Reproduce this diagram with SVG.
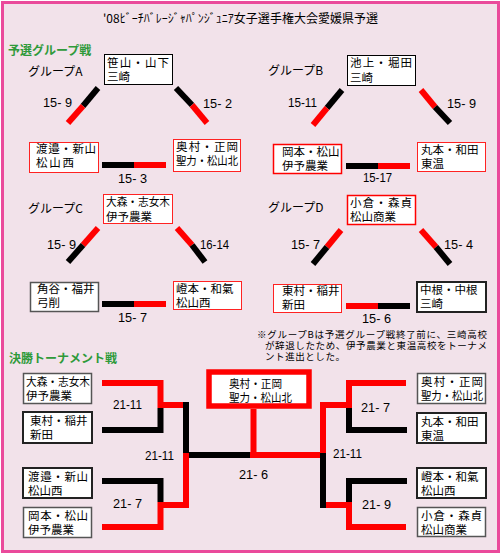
<svg xmlns="http://www.w3.org/2000/svg" width="502" height="557" viewBox="0 0 502 557">
<style>
.t{font-family:"Noto Sans CJK JP","Noto Sans CJK SC",sans-serif;font-size:11.5px;fill:#000}
.ti{font-family:"Noto Sans CJK JP","Noto Sans CJK SC",sans-serif;font-size:12px;fill:#000}
.n{font-family:"Noto Sans CJK JP","Noto Sans CJK SC",sans-serif;font-size:9.5px;fill:#000}
.h{font-family:"Noto Sans CJK JP","Noto Sans CJK SC",sans-serif;font-size:12px;font-weight:bold;fill:#2f9a3a}
.s{font-family:"Liberation Sans",Arial,sans-serif;font-size:12px;fill:#000}
.bk{fill:#fff;stroke:#000;stroke-width:1}
.bk2{fill:#fff;stroke:#222;stroke-width:2}
.gy{fill:#fff;stroke:#555;stroke-width:1.5}
.rd{fill:#fff;stroke:#f22;stroke-width:1}
.rd2{fill:#fff;stroke:#f00;stroke-width:1.5}
.r{stroke:#f00;stroke-width:6;fill:none;stroke-linejoin:miter}
.b{stroke:#000;stroke-width:6;fill:none;stroke-linejoin:miter}
</style>
<rect x="0" y="0" width="502" height="557" fill="#fff"/>
<rect x="2.5" y="2.5" width="496" height="549" fill="#f2e2ea" stroke="#ea4a9b" stroke-width="3"/>

<text class="ti" x="103" y="23" textLength="275">'08ﾋﾞｰﾁﾊﾞﾚｰｼﾞｬﾊﾟﾝｼﾞｭﾆｱ女子選手権大会愛媛県予選</text>
<text class="h" x="8" y="55">予選グループ戦</text>
<text class="ti" x="28" y="76">グループA</text>
<text class="ti" x="268" y="75">グループB</text>
<text class="ti" x="28" y="213">グループC</text>
<text class="ti" x="268" y="212">グループD</text>
<text class="h" x="9" y="363">決勝トーナメント戦</text>
<g id="note">
<text class="n" x="257" y="338" textLength="230">※グループBは予選グループ戦終了前に、三崎高校</text>
<text class="n" x="265" y="349" textLength="222">が辞退したため、伊予農業と東温高校をトーナメ</text>
<text class="n" x="265" y="360" textLength="80">ント進出とした。</text>
</g>

<g id="connectors">
<line class="b" x1="98" y1="88" x2="83" y2="106"/><line class="r" x1="83" y1="106" x2="68" y2="123"/>
<line class="b" x1="176" y1="88" x2="192" y2="105"/><line class="r" x1="192" y1="105" x2="207" y2="123"/>
<line class="b" x1="102" y1="165" x2="134" y2="165"/><line class="r" x1="134" y1="165" x2="166" y2="165"/>
<line class="b" x1="342" y1="90" x2="327" y2="108"/><line class="r" x1="327" y1="108" x2="313" y2="125"/>
<line class="r" x1="421" y1="90" x2="435" y2="107"/><line class="b" x1="435" y1="107" x2="450" y2="123"/>
<line class="b" x1="346" y1="166" x2="378" y2="166"/><line class="r" x1="378" y1="166" x2="410" y2="166"/>
<line class="r" x1="98" y1="228" x2="83" y2="245"/><line class="b" x1="83" y1="245" x2="68" y2="262"/>
<line class="r" x1="177" y1="228" x2="192" y2="245"/><line class="b" x1="192" y1="245" x2="205" y2="262"/>
<line class="b" x1="102" y1="304" x2="134" y2="304"/><line class="r" x1="134" y1="304" x2="166" y2="304"/>
<line class="r" x1="341" y1="230" x2="327" y2="247"/><line class="b" x1="327" y1="247" x2="313" y2="264"/>
<line class="r" x1="421" y1="230" x2="436" y2="247"/><line class="b" x1="436" y1="247" x2="450" y2="264"/>
<line class="r" x1="346" y1="306" x2="378" y2="306"/><line class="b" x1="378" y1="306" x2="410" y2="306"/>
<path class="b" d="M102,430 H160.5 V408"/>
<path class="r" d="M102,383 H160.5 V405 H183"/>
<path class="b" d="M102,481 H160.5 V502"/>
<path class="r" d="M102,527 H160.5 V505 H183"/>
<path class="b" d="M186,402 V453"/>
<path class="r" d="M186,453 V508"/>
<path class="b" d="M189,455 H251"/>
<path class="r" d="M253.5,409 V458"/>
<path class="r" d="M250,455 H320"/>
<path class="r" d="M323,402 V453"/>
<path class="b" d="M323,453 V508"/>
<path class="r" d="M320,405 H349 V383 H406"/>
<path class="b" d="M349,408 V430 H407"/>
<path class="b" d="M407,481 H349 V502"/>
<path class="r" d="M406,527 H349 V505 H326"/>
</g>

<g id="scores">
<text class="s" x="43" y="107" textLength="29" lengthAdjust="spacingAndGlyphs">15- 9</text>
<text class="s" x="203" y="108" textLength="29" lengthAdjust="spacingAndGlyphs">15- 2</text>
<text class="s" x="118" y="183" textLength="29" lengthAdjust="spacingAndGlyphs">15- 3</text>
<text class="s" x="288" y="107" textLength="29" lengthAdjust="spacingAndGlyphs">15-11</text>
<text class="s" x="447" y="108" textLength="29" lengthAdjust="spacingAndGlyphs">15- 9</text>
<text class="s" x="363" y="182" textLength="29" lengthAdjust="spacingAndGlyphs">15-17</text>
<text class="s" x="47" y="249" textLength="29" lengthAdjust="spacingAndGlyphs">15- 9</text>
<text class="s" x="200" y="249" textLength="29" lengthAdjust="spacingAndGlyphs">16-14</text>
<text class="s" x="118" y="322" textLength="29" lengthAdjust="spacingAndGlyphs">15- 7</text>
<text class="s" x="291" y="249" textLength="29" lengthAdjust="spacingAndGlyphs">15- 7</text>
<text class="s" x="444" y="249" textLength="29" lengthAdjust="spacingAndGlyphs">15- 4</text>
<text class="s" x="362" y="323" textLength="29" lengthAdjust="spacingAndGlyphs">15- 6</text>
<text class="s" x="113" y="409" textLength="29" lengthAdjust="spacingAndGlyphs">21-11</text>
<text class="s" x="113" y="508" textLength="29" lengthAdjust="spacingAndGlyphs">21- 7</text>
<text class="s" x="145" y="460" textLength="29" lengthAdjust="spacingAndGlyphs">21-11</text>
<text class="s" x="239" y="479" textLength="29" lengthAdjust="spacingAndGlyphs">21- 6</text>
<text class="s" x="333" y="458" textLength="29" lengthAdjust="spacingAndGlyphs">21-11</text>
<text class="s" x="361" y="412" textLength="29" lengthAdjust="spacingAndGlyphs">21- 7</text>
<text class="s" x="362" y="509" textLength="29" lengthAdjust="spacingAndGlyphs">21- 9</text>
</g>

<g id="A1"><rect class="bk" x="104.5" y="54.5" width="68" height="30"/><text class="t" x="107" y="67" textLength="62">笹山・山下</text><text class="t" x="107" y="81">三崎</text></g>
<g id="A2"><rect class="rd" x="29.5" y="142.5" width="69" height="30"/><text class="t" x="36" y="153" textLength="60">渡邉・新山</text><text class="t" x="36" y="167" textLength="38">松山西</text></g>
<g id="A3"><rect class="rd" x="173.5" y="139.5" width="67" height="32"/><text class="t" x="176" y="151" textLength="62">奥村・正岡</text><text class="t" x="176" y="165" textLength="62" lengthAdjust="spacingAndGlyphs">聖力・松山北</text></g>

<g id="B1"><rect class="bk" x="347.5" y="55.5" width="68" height="30"/><text class="t" x="350" y="67" textLength="62">池上・堀田</text><text class="t" x="350" y="82">三崎</text></g>
<g id="B2"><rect class="rd2" x="273.5" y="144.5" width="68" height="29"/><text class="t" x="282" y="156">岡本・松山</text><text class="t" x="282" y="170">伊予農業</text></g>
<g id="B3"><rect class="rd" x="417.5" y="142.5" width="68" height="29"/><text class="t" x="421" y="154">丸本・和田</text><text class="t" x="421" y="168">東温</text></g>

<g id="C1"><rect class="rd" x="103.5" y="194.5" width="69" height="29"/><text class="t" x="106" y="206" textLength="64" lengthAdjust="spacingAndGlyphs">大森・志女木</text><text class="t" x="106" y="221">伊予農業</text></g>
<g id="C2"><rect class="gy" x="30.5" y="282.5" width="68" height="29"/><text class="t" x="37" y="293">角谷・福井</text><text class="t" x="37" y="307">弓削</text></g>
<g id="C3"><rect class="rd" x="173.5" y="281.5" width="68" height="28"/><text class="t" x="176" y="293">嶝本・和氣</text><text class="t" x="176" y="307">松山西</text></g>

<g id="D1"><rect class="rd2" x="347.5" y="195.5" width="68" height="29"/><text class="t" x="350" y="207" textLength="62">小倉・森貞</text><text class="t" x="350" y="221">松山商業</text></g>
<g id="D2"><rect class="rd" x="273.5" y="284.5" width="68" height="28"/><text class="t" x="282" y="295">東村・稲井</text><text class="t" x="282" y="309">新田</text></g>
<g id="D3"><rect class="bk2" x="417" y="282" width="69" height="30"/><text class="t" x="420" y="294">中根・中根</text><text class="t" x="420" y="308">三崎</text></g>

<g id="L1"><rect class="gy" x="23.5" y="373.5" width="68" height="30"/><text class="t" x="26" y="386" textLength="64" lengthAdjust="spacingAndGlyphs">大森・志女木</text><text class="t" x="26" y="400">伊予農業</text></g>
<g id="L2"><rect class="bk2" x="23" y="412" width="69" height="31"/><text class="t" x="30" y="425">東村・稲井</text><text class="t" x="30" y="439">新田</text></g>
<g id="L3"><rect class="bk2" x="23" y="468" width="69" height="30"/><text class="t" x="28" y="481" textLength="60">渡邉・新山</text><text class="t" x="28" y="495">松山西</text></g>
<g id="L4"><rect class="gy" x="23.5" y="507.5" width="68" height="30"/><text class="t" x="28" y="520" textLength="60">岡本・松山</text><text class="t" x="28" y="534">伊予農業</text></g>

<g id="R1"><rect class="gy" x="417.5" y="373.5" width="68" height="30"/><text class="t" x="421" y="386" textLength="62">奥村・正岡</text><text class="t" x="421" y="400" textLength="62" lengthAdjust="spacingAndGlyphs">聖力・松山北</text></g>
<g id="R2"><rect class="bk2" x="417" y="413" width="69" height="30"/><text class="t" x="421" y="426">丸本・和田</text><text class="t" x="421" y="440">東温</text></g>
<g id="R3"><rect class="bk2" x="417" y="468" width="69" height="30"/><text class="t" x="421" y="481">嶝本・和氣</text><text class="t" x="421" y="495">松山西</text></g>
<g id="R4"><rect class="gy" x="417.5" y="507.5" width="68" height="29"/><text class="t" x="421" y="520" textLength="61">小倉・森貞</text><text class="t" x="421" y="534">松山商業</text></g>

<g id="champion"><rect x="209" y="372" width="100" height="34" fill="#fff" stroke="#f00" stroke-width="5.5"/><text class="t" x="229" y="388" textLength="53" lengthAdjust="spacingAndGlyphs">奥村・正岡</text><text class="t" x="229" y="402" textLength="63" lengthAdjust="spacingAndGlyphs">聖力・松山北</text></g>
</svg>
